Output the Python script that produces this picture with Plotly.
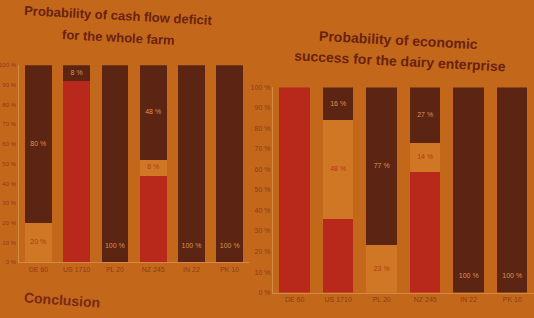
import plotly.graph_objects as go

categories_1 = ["DE 60", "US 1710", "PL 20", "NZ 245", "IN 22", "PK 10"]
red_1 = [0, 92, 0, 44, 0, 0]
light_1 = [20, 0, 0, 8, 0, 0]
dark_1 = [80, 8, 100, 48, 100, 100]

categories_2 = ["DE 60", "US 1710", "PL 20", "NZ 245", "IN 22", "PK 10"]
red_2 = [100, 36, 0, 59, 0, 0]
light_2 = [0, 48, 23, 14, 0, 0]
dark_2 = [0, 16, 77, 27, 100, 100]

tick_vals = [0, 10, 20, 30, 40, 50, 60, 70, 80, 90, 100]
tick_text = [f"{v} %" for v in tick_vals]

BG = "#C3681B"
RED = "#B8291C"
LIGHT = "#CF7724"
DARK = "#5C2413"
TXT_DARK = "#D9944A"
TXT_LIGHT = "#B3381C"
TITLE = "#6A2210"
LINE = "#D38B45"

fig = go.Figure()


def add_chart(cats, red, light, dark, xa, ya):
    fig.add_trace(go.Bar(x=cats, y=red, marker=dict(color=RED, line=dict(width=0)),
                         xaxis=xa, yaxis=ya, showlegend=False, hoverinfo="skip"))
    fig.add_trace(go.Bar(x=cats, y=light, marker=dict(color=LIGHT, line=dict(width=0)),
                         xaxis=xa, yaxis=ya, showlegend=False, hoverinfo="skip"))
    fig.add_trace(go.Bar(x=cats, y=dark, marker=dict(color=DARK, line=dict(width=0)),
                         xaxis=xa, yaxis=ya, showlegend=False, hoverinfo="skip"))
    lx, ly, lt, lc = [], [], [], []
    for c, r, l, d in zip(cats, red, light, dark):
        if l > 0:
            lx.append(c); ly.append(r + l / 2); lt.append(f"{l} %"); lc.append(TXT_LIGHT)
        if d > 0:
            base = r + l
            lx.append(c)
            ly.append(base + (d / 2 if d < 100 else 8))
            lt.append(f"{d} %")
            lc.append(TXT_DARK)
    fig.add_trace(go.Scatter(x=lx, y=ly, text=lt, mode="text",
                             textfont=dict(size=7, color=lc, family="Liberation Sans"),
                             xaxis=xa, yaxis=ya, showlegend=False, hoverinfo="skip"))


add_chart(categories_1, red_1, light_1, dark_1, "x", "y")
add_chart(categories_2, red_2, light_2, dark_2, "x2", "y2")

axis_font = dict(size=7, color="#8E3A16", family="Liberation Sans")
small_font = dict(size=6, color="#8E3A16", family="Liberation Sans")
common_x = dict(showgrid=False, showline=True, linecolor=LINE, linewidth=1,
                tickfont=axis_font, ticks="", tickangle=0, zeroline=False,
                automargin=False)
common_y = dict(range=[0, 100], tickvals=tick_vals, ticktext=tick_text, showgrid=False,
                showline=True, linecolor=LINE, linewidth=1,
                ticks="", zeroline=False, automargin=False)

fig.update_layout(
    width=534, height=318,
    margin=dict(l=0, r=0, t=0, b=0, autoexpand=False),
    paper_bgcolor=BG, plot_bgcolor=BG,
    barmode="stack",
    xaxis=dict(domain=[0.036, 0.466], anchor="y", **common_x),
    yaxis=dict(domain=[0.175, 0.795], anchor="x", tickfont=small_font,
               ticklabelstandoff=1, **common_y),
    xaxis2=dict(domain=[0.511, 1.0], anchor="y2", **common_x),
    yaxis2=dict(domain=[0.08, 0.725], anchor="x2", tickfont=axis_font, **common_y),
    bargap=0.3,
    font=dict(family="Liberation Sans"),
)

notes = [
    ("<b>Probability of cash flow deficit</b>", 118, 16, 13, TITLE, 3),
    ("<b>for the whole farm</b>", 118, 38, 13, TITLE, 3),
    ("<b>Probability of economic</b>", 398, 40, 14, TITLE, 3),
    ("<b>success for the dairy enterprise</b>", 400, 61, 14, TITLE, 3),
    ("<b>Conclusion</b>", 62, 300, 14, "#7A2814", 4),
]
for text, px, py, size, color, ang in notes:
    fig.add_annotation(text=text, x=px / 534, y=1 - py / 318, xref="paper", yref="paper",
                       xanchor="center", yanchor="middle", showarrow=False,
                       font=dict(size=size, color=color, family="Liberation Sans"),
                       textangle=ang)

fig.write_html("out.html", config={"displayModeBar": False},
               post_script="document.body.style.margin='0';document.body.style.background='%s';" % BG)
